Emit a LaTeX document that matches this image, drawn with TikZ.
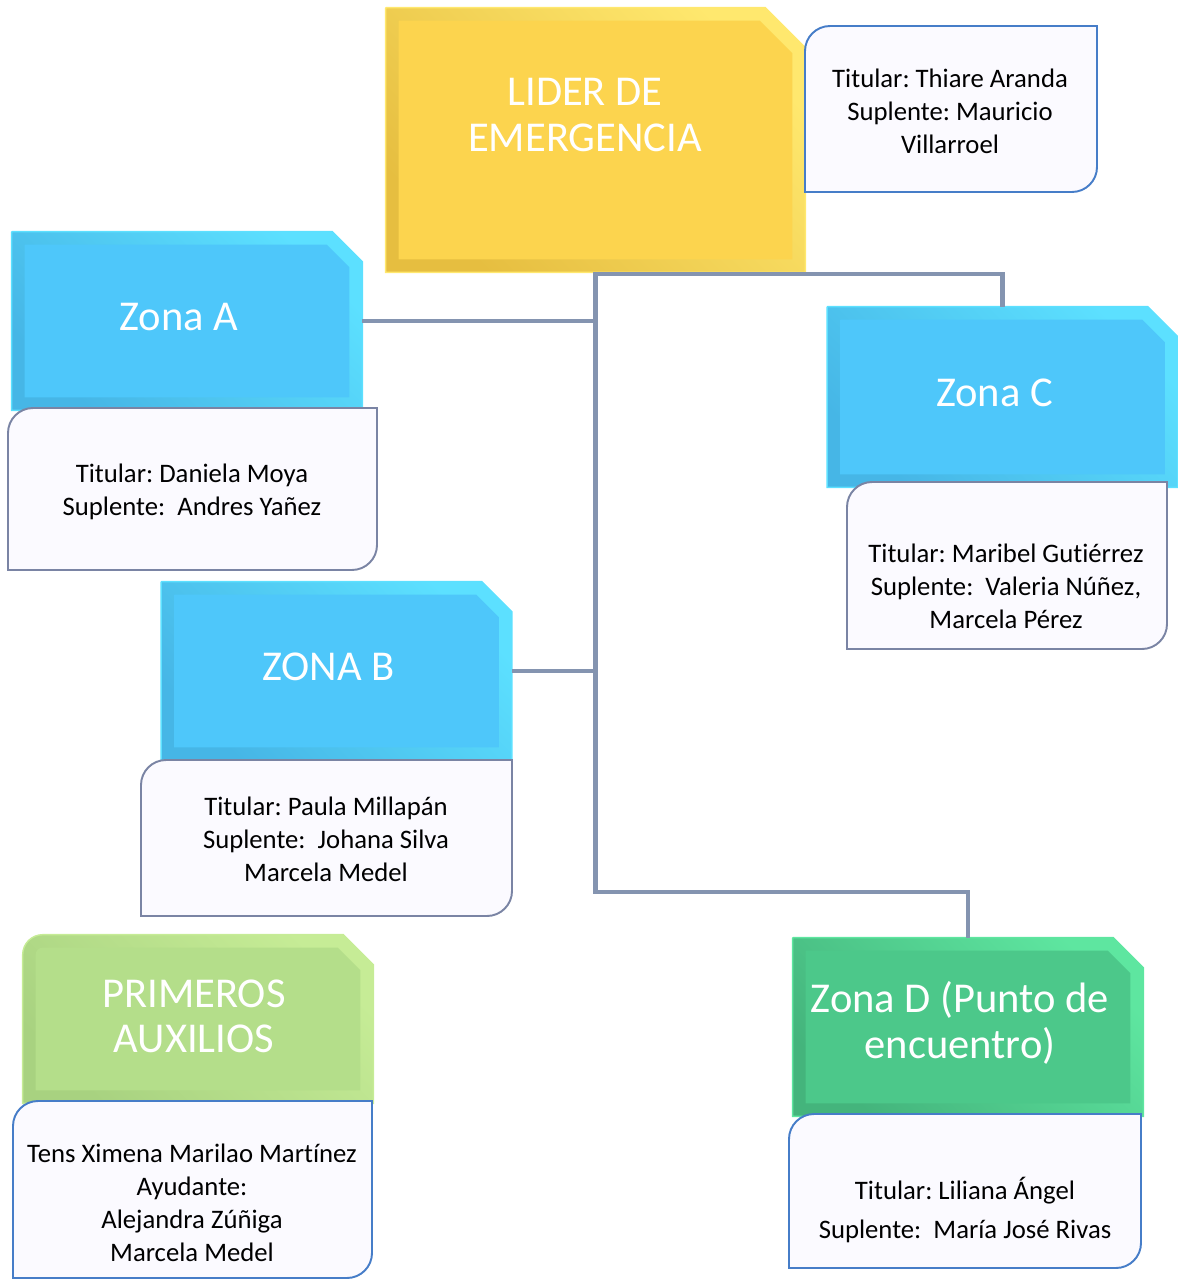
\documentclass[tikz,border=0pt]{standalone}
\usepackage{fontspec}
\setmainfont{Carlito}[Ligatures=NoCommon]
\frenchspacing
\usetikzlibrary{backgrounds}

\definecolor{amarillo}{RGB}{252,212,78}
\definecolor{amarilloC}{RGB}{255,232,110}
\definecolor{amarilloO}{RGB}{230,190,64}
\definecolor{celeste}{RGB}{78,199,250}
\definecolor{celesteC}{RGB}{92,224,255}
\definecolor{celesteO}{RGB}{70,182,230}
\definecolor{pasto}{RGB}{180,222,138}
\definecolor{pastoC}{RGB}{198,236,150}
\definecolor{pastoO}{RGB}{168,210,128}
\definecolor{verde}{RGB}{76,200,138}
\definecolor{verdeC}{RGB}{94,230,160}
\definecolor{verdeO}{RGB}{68,180,124}
\definecolor{linea}{RGB}{132,148,176}
\definecolor{bordeG}{RGB}{122,132,164}
\definecolor{bordeA}{RGB}{70,125,200}
\definecolor{fondo}{RGB}{251,250,255}

\tikzset{
  titulo/.style={text=white, align=center, font=\fontsize{24.2}{26}\selectfont},
  caja/.style={minimum width=7cm, minimum height=3.56cm, inner sep=0pt},
  rotulo/.style={label={[titulo, xshift=-0.16cm, yshift=0.08cm]center:{#1}}},
  nombres/.style={align=center, text=black, font=\fontsize{15.2}{18.7}\selectfont},
  ficha/.style={fill=fondo, line width=1.1pt},
  conector/.style={draw=linea, line width=2.3pt}
}

\newcommand\bisel[6]{% nodo, color, claro, oscuro, chaflan, radio
  \pgfmathsetmacro\chaf{#5}\pgfmathsetmacro\chafin{#5+0.11}
  \pgfmathsetmacro\rad{#6}\pgfmathsetmacro\radin{max(#6-0.26,0.01)}
  \pgfmathsetmacro\radoff{0.26+\radin}
  \shadedraw[top color=#3, bottom color=#4, shading angle=-45, draw=#3, line width=0.8pt]
    (#1.south west) -- ([yshift=-\rad cm]#1.north west) arc[start angle=180, end angle=90, radius=\rad cm]
    -- ([xshift=-\chaf cm]#1.north east) -- ([yshift=-\chaf cm]#1.north east) -- (#1.south east) -- cycle;
  \fill[#2] ([shift={(0.26cm,0.26cm)}]#1.south west) -- ([shift={(0.26cm,-\radoff cm)}]#1.north west)
    arc[start angle=180, end angle=90, radius=\radin cm]
    -- ([shift={(-\chafin cm,-0.26cm)}]#1.north east) -- ([shift={(-0.26cm,-\chafin cm)}]#1.north east)
    -- ([shift={(-0.26cm,0.26cm)}]#1.south east) -- cycle;}

\newcommand\marco[5]{% x1, y1, x2, y2, borde
  \filldraw[ficha, draw=#5] (#1,#4) -- (#1,#2-25) arc[start angle=180, end angle=90, radius=0.5cm]
    -- (#3,#2) -- (#3,#4+25) arc[start angle=0, end angle=-90, radius=0.5cm] -- cycle;}

\begin{document}
\begin{tikzpicture}[x=0.02cm, y=0.02cm]
\useasboundingbox (0,0) rectangle (1177,-1281);

\node[caja, minimum width=8.38cm, minimum height=5.28cm] (lider) at (595.5,-140) {};
\node[titulo] (lidertxt) at (585,-115) {LIDER DE\\EMERGENCIA};
\node[caja, rotulo={Zona A}] (zA) at (187,-321) {};
\node[caja, rotulo={ZONA B}] (zB) at (336.5,-671) {};
\node[caja, minimum height=3.6cm, rotulo={Zona C}] (zC) at (1002.5,-397) {};
\node[caja, minimum height=3.36cm, label={[titulo, xshift=-0.08cm, yshift=0.05cm]center:{PRIMEROS\\AUXILIOS}}] (pA) at (198,-1019) {};
\node[caja, rotulo={Zona D (Punto de\\encuentro)}] (zD) at (968,-1027) {};

\begin{scope}[on background layer]
  \bisel{lider}{amarillo}{amarilloC}{amarilloO}{0.8}{0.01}
  \bisel{zA}{celeste}{celesteC}{celesteO}{0.6}{0.01}
  \bisel{zB}{celeste}{celesteC}{celesteO}{0.6}{0.01}
  \bisel{zC}{celeste}{celesteC}{celesteO}{0.6}{0.01}
  \bisel{pA}{pasto}{pastoC}{pastoO}{0.6}{0.4}
  \bisel{zD}{verde}{verdeC}{verdeO}{0.6}{0.01}
\end{scope}

\marco{805}{-26}{1097}{-192}{bordeA}
\marco{8}{-408}{377}{-570}{bordeG}
\marco{141}{-760}{512}{-916}{bordeG}
\marco{847}{-482}{1167}{-649}{bordeG}
\marco{13}{-1101}{372}{-1278}{bordeA}
\marco{789}{-1114}{1141}{-1268}{bordeA}

\node[nombres] (tL) at (950,-111) {Titular: Thiare Aranda\\Suplente: Mauricio\\Villarroel};
\node[nombres] (tA) at (192,-492) {Titular: Daniela Moya\\Suplente:~ Andres Yañez};
\node[nombres] (tB) at (326,-839) {Titular: Paula Millapán\\Suplente:~ Johana Silva\\Marcela Medel};
\node[nombres] (tC) at (1006,-586) {Titular: Maribel Gutiérrez\\Suplente:~ Valeria Núñez,\\Marcela Pérez};
\node[nombres] (tP) at (192,-1203) {Tens Ximena Marilao Martínez\\Ayudante:\\Alejandra Zúñiga\\Marcela Medel};
\node[nombres, font=\fontsize{15.2}{22.7}\selectfont] (tD) at (965,-1210) {Titular: Liliana Ángel\\Suplente:~ María José Rivas};

\draw[conector] (lider.south) -- ++(0,-620) -| (zD.north);
\draw[conector] ([yshift=-0.04cm]lider.south) -| (zC.north);
\draw[conector] (zA.east) -- (zA.east -| lider.south);
\draw[conector] (zB.east) -- (zB.east -| lider.south);
\end{tikzpicture}
\end{document}
